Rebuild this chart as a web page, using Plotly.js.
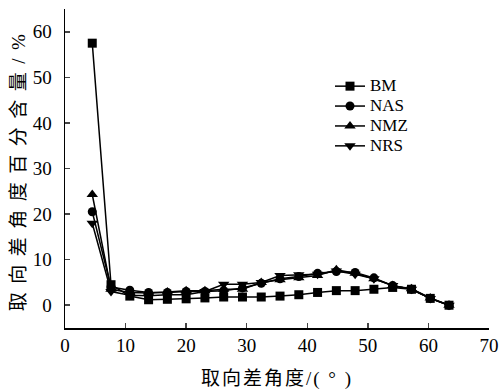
<!DOCTYPE html>
<html>
<head>
<meta charset="utf-8">
<script src="https://cdn.plot.ly/plotly-3.0.1.min.js"></script>
<style>
html,body{margin:0;padding:0;background:#fff;}
#chart .legend .legendtext{font-size:17px !important;}
#chart .legend .scrollbox{clip-path:none !important;}
#chart .ytitle{letter-spacing:8.5px;}
#chart .xtitle{letter-spacing:2px;}
</style>
</head>
<body>
<div id="chart" style="width:501px;height:390px;"></div>
<script>
const angles = [4.5, 7.6, 10.7, 13.8, 16.9, 20.0, 23.1, 26.2, 29.3, 32.4, 35.5, 38.6, 41.7, 44.8, 47.9, 51.0, 54.1, 57.2, 60.3, 63.4];
const BM  = [57.5, 4.5, 2.0, 1.2, 1.3, 1.4, 1.6, 1.8, 1.8, 1.8, 2.0, 2.3, 2.8, 3.2, 3.2, 3.5, 3.9, 3.5, 1.5, 0];
const NAS = [20.5, 4.0, 3.3, 2.8, 2.8, 3.0, 3.0, 3.2, 3.8, 4.8, 5.8, 6.3, 7.0, 7.4, 7.2, 6.0, 4.3, 3.5, 1.5, 0];
const NMZ = [24.3, 3.5, 2.8, 2.7, 2.9, 3.2, 3.2, 3.5, 3.5, 5.0, 5.6, 6.0, 6.5, 7.8, 7.0, 5.8, 4.3, 3.6, 1.6, 0];
const NRS = [18.0, 3.0, 2.2, 2.1, 2.3, 2.3, 3.0, 4.6, 4.6, 5.0, 6.5, 6.7, 6.8, 7.5, 6.8, 5.8, 4.3, 3.5, 1.5, 0];
const seriesNames = ["BM", "NAS", "NMZ", "NRS"];
const seriesData = [BM, NAS, NMZ, NRS];
const symbols = ["square", "circle", "triangle-up", "triangle-down"];
const xTickVals = [0, 10, 20, 30, 40, 50, 60, 70];
const yTickVals = [0, 10, 20, 30, 40, 50, 60];
const xTitle = "取向差角度/( ° )";
const yTitle = "取向差角度百分含量/%";

const serif = "Liberation Serif, Noto Sans CJK SC, serif";
const traces = seriesNames.map((n, i) => ({
  x: angles, y: seriesData[i], name: n, type: "scatter", mode: "lines+markers",
  line: {color: "#000", width: 1.5},
  marker: {symbol: symbols[i], size: i >= 2 ? 10 : 9, color: "#000"}
}));

const layout = {
  width: 501, height: 390,
  margin: {l: 65, r: 12, t: 9, b: 62},
  paper_bgcolor: "#fff", plot_bgcolor: "#fff",
  font: {family: serif, size: 17, color: "#000"},
  showlegend: true,
  legend: {x: 0.625, y: 0.805, xanchor: "left", yanchor: "top", bgcolor: "rgba(0,0,0,0)",
           font: {family: serif, size: 13, color: "#000"}, tracegroupgap: 0, itemwidth: 30},
  xaxis: {range: [0, 70], tickvals: xTickVals, ticks: "inside", ticklen: 5, tickwidth: 1.5,
          showline: true, linecolor: "#000", linewidth: 1.5, showgrid: false, zeroline: false,
          ticklabelstandoff: 0,
          tickfont: {family: serif, size: 19, color: "#000"},
          title: {text: xTitle, font: {family: serif, size: 19, color: "#000"}, standoff: 18}},
  yaxis: {range: [-5, 65], tickvals: yTickVals, ticks: "inside", ticklen: 5, tickwidth: 1.5,
          showline: true, linecolor: "#000", linewidth: 1.5, showgrid: false, zeroline: false,
          ticklabelstandoff: 8,
          tickfont: {family: serif, size: 19, color: "#000"},
          title: {text: yTitle, font: {family: serif, size: 19, color: "#000"}, standoff: 2}}
};
Plotly.newPlot("chart", traces, layout, {displayModeBar: false, staticPlot: true});
</script>
</body>
</html>
